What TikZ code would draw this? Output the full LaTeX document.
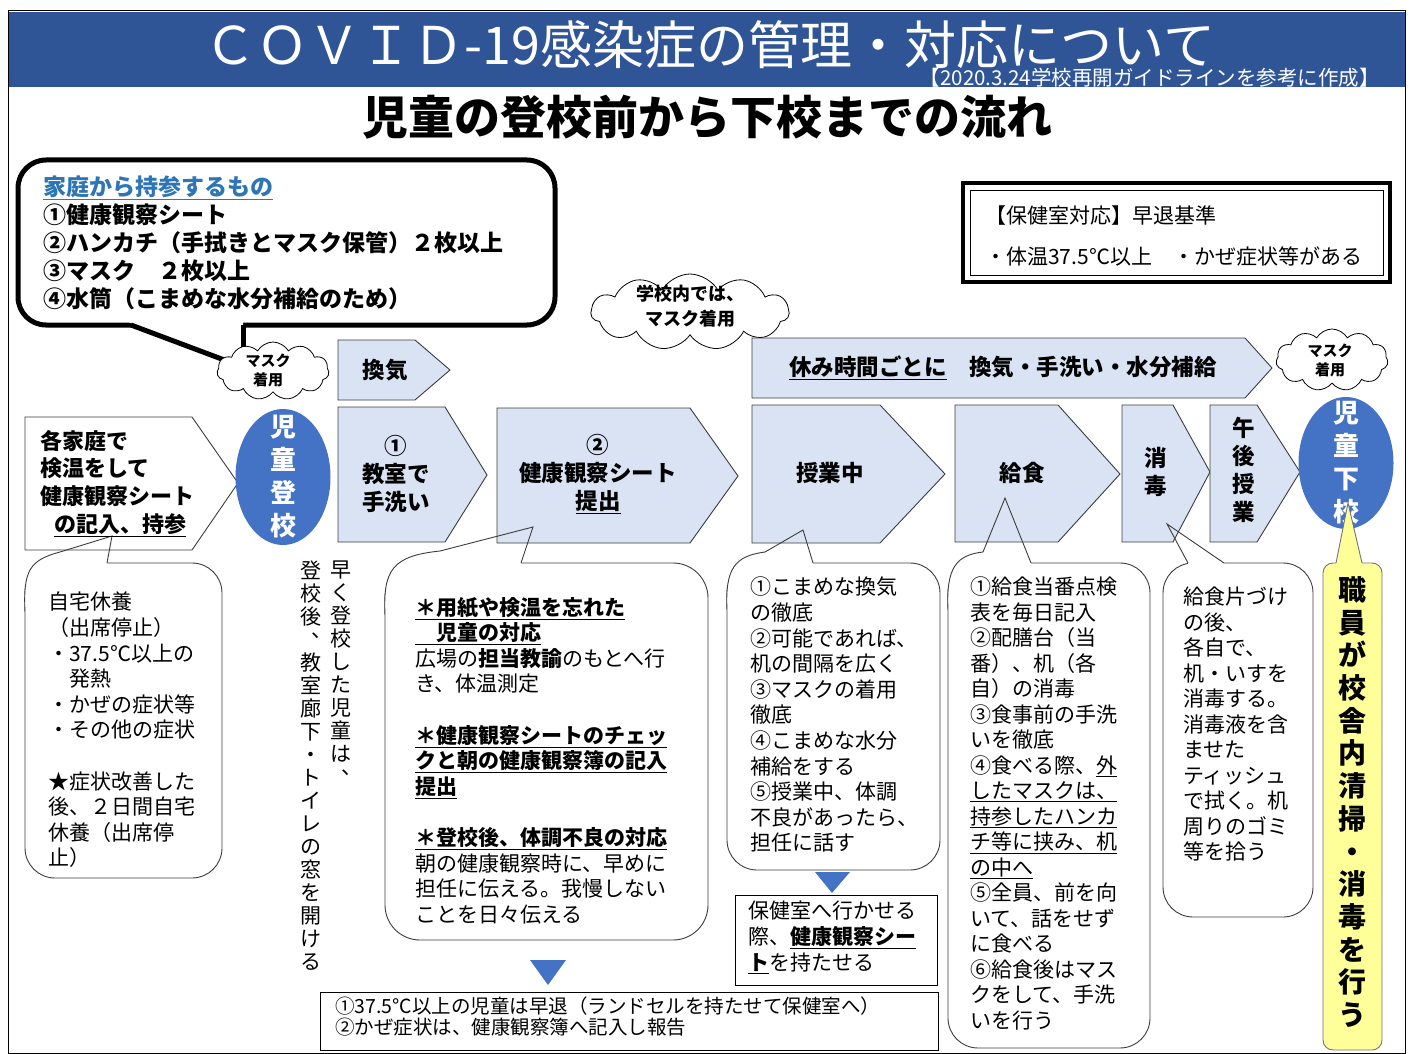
\documentclass[tikz,border=0pt]{standalone}
\usepackage{fontspec}
\setmainfont{Noto Sans CJK JP}
\usetikzlibrary{shapes.symbols,shapes.geometric}
\definecolor{banner}{RGB}{47,85,151}
\definecolor{ellblue}{RGB}{68,114,196}
\definecolor{pentfill}{RGB}{218,227,243}
\definecolor{lineg}{RGB}{60,60,60}
\definecolor{ttlblue}{RGB}{46,117,182}
\definecolor{yel}{RGB}{255,255,153}
\newcommand\myfs[2]{\fontsize{#1}{#2}\selectfont}
\newcommand\vcomma{\makebox[1em][l]{\hspace{0.5em}\raisebox{0.5em}{\makebox[0.5em][l]{、}}}}
\begin{document}
\begin{tikzpicture}[x=1pt,y=-1pt,
 pent/.style={draw=lineg, fill=pentfill, line width=0.9pt},
 bub/.style={draw=lineg, fill=white, line width=0.9pt},
 tailline/.style={draw=lineg, line width=0.9pt},
 btxt/.style={inner sep=0pt, anchor=north west, align=left, font=\myfs{21}{25.6}},
 ptxt/.style={inner sep=0pt, align=center, font=\myfs{22.5}{28}\bfseries},
 vtxt/.style={inner sep=0pt, align=center, anchor=north, font=\myfs{21}{23}},
 cloudn/.style={cloud, cloud puffs=11, cloud puff arc=120, cloud ignores aspect, draw=black, fill=white, line width=0.8pt, inner sep=0pt},
 cltxt/.style={inner sep=0pt, align=center, font=\myfs{15}{19}\bfseries},
 tri/.style={fill=ellblue},
]
\useasboundingbox (0,0) rectangle (1411,1054);
\fill[white] (0,0) rectangle (1411,1054);
% frame and banner
\fill[banner] (8,12) rectangle (1405,87);
\draw[line width=1pt] (8,11) rectangle (1405,1053);
\node[text=white, inner sep=0pt, font=\myfs{52}{52}] (title) at (710,45) {ＣＯＶＩＤ-19感染症の管理・対応について};
\node[text=white, inner sep=0pt, anchor=east, font=\myfs{20.5}{20.5}] (sub) at (1380,78) {【2020.3.24学校再開ガイドラインを参考に作成】};
\node[inner sep=0pt, font=\myfs{46}{46}\bfseries] (head) at (707,117) {児童の登校前から下校までの流れ};

% top-left thick box
\draw[line width=5pt, rounded corners=28pt, fill=white] (18,160) rectangle (555,325);
\fill[white] (126,321) -- (243,367) -- (243,321) -- cycle;
\draw[line width=5pt] (131,325) -- (243,367);
\draw[line width=5pt] (243,325) -- (243,367);
\node[anchor=north west, inner sep=0pt, align=left, font=\myfs{23}{27.8}\bfseries] (items) at (43,176)
 {\textcolor{ttlblue}{\underline{家庭から持参するもの}}\\①健康観察シート\\②ハンカチ（手拭きとマスク保管）２枚以上\\③マスク　２枚以上\\④水筒（こまめな水分補給のため）};
\node[cloudn, minimum width=112pt, minimum height=58pt] (cl1) at (273,371) {};
\node[cltxt] (cl1t) at (268,370) {マスク\\着用};

% top-right double box
\draw[line width=4pt] (963,183) rectangle (1390,282);
\draw[line width=1pt] (970,190) rectangle (1383,275);
\node[anchor=west, inner sep=0pt, font=\myfs{21}{21}] (hk1) at (985,216) {【保健室対応】早退基準};
\node[anchor=west, inner sep=0pt, font=\myfs{21}{21}] (hk2) at (985,256) {・体温37.5℃以上　・かぜ症状等がある};

% clouds
\node[cloudn, minimum width=198pt, minimum height=76pt] (cl2) at (690,312) {};
\node[cltxt, font=\myfs{18}{25}\bfseries] (cl2t) at (690,306) {学校内では、\\マスク着用};
\node[cloudn, minimum width=112pt, minimum height=62pt] (cl3) at (1332,360) {};
\node[cltxt] (cl3t) at (1330,360) {マスク\\着用};

% bubbles
\draw[bub, rounded corners=30pt] (25,563) rectangle (222,878);
\fill[white] (25,612) .. controls (23,570) and (30,560) .. (60,552) -- (112,536) -- (107,563) -- (107,612) -- cycle;
\draw[bub, rounded corners=35pt] (385,563) rectangle (708,940);
\fill[white] (385,615) .. controls (383,570) and (392,556) .. (440,551) -- (533,527) -- (521,563) -- (521,615) -- cycle;
\draw[bub, rounded corners=30pt] (727,563) rectangle (940,870);
\fill[white] (727,610) .. controls (725,568) and (735,556) .. (765,552) -- (803,530) -- (813,563) -- (813,610) -- cycle;
\draw[bub, rounded corners=30pt] (948,563) rectangle (1150,1048);
\fill[white] (948,610) .. controls (946,568) and (956,555) .. (983,552) -- (1005,498) -- (1031,563) -- (1031,610) -- cycle;
\draw[bub, rounded corners=30pt] (1163,563) rectangle (1313,917);
\fill[white] (1188,563) -- (1167,524) -- (1224,563) -- (1224,567) -- (1188,567) -- cycle;

% pentagons
\draw[bub] (25,417) -- (192,417) -- (238,483) -- (192,550) -- (25,550) -- cycle;
\draw[pent] (338,340) -- (415,340) -- (450,370) -- (415,400) -- (338,400) -- cycle;
\draw[pent] (752,338) -- (1245,338) -- (1272,368) -- (1245,398) -- (752,398) -- cycle;
\draw[pent] (338,407) -- (445,407) -- (487,475) -- (445,542) -- (338,542) -- cycle;
\draw[pent] (497,408) -- (690,408) -- (738,476) -- (690,543) -- (497,543) -- cycle;
\draw[pent] (752,405) -- (880,405) -- (945,474) -- (880,543) -- (752,543) -- cycle;
\draw[pent] (955,405) -- (1058,405) -- (1120,474) -- (1058,542) -- (955,542) -- cycle;
\draw[pent] (1122,405) -- (1173,405) -- (1210,472) -- (1173,542) -- (1122,542) -- cycle;
\draw[pent] (1210,405) -- (1257,405) -- (1300,472) -- (1257,542) -- (1210,542) -- cycle;

% tail lines on top
\draw[tailline] (25,612) .. controls (23,570) and (30,560) .. (60,552) -- (112,536) -- (107,563);
\draw[tailline] (385,615) .. controls (383,570) and (392,556) .. (440,551) -- (533,527) -- (521,563);
\draw[tailline] (727,610) .. controls (725,568) and (735,556) .. (765,552) -- (803,530) -- (813,563);
\draw[tailline] (948,610) .. controls (946,568) and (956,555) .. (983,552) -- (1005,498) -- (1031,563);
\draw[tailline] (1188,563) -- (1167,524) -- (1224,563);

% ellipses
\node[ellipse, fill=ellblue, minimum width=95pt, minimum height=136pt, inner sep=0pt] (tozo) at (283,477) {};
\node[ellipse, fill=ellblue, minimum width=95pt, minimum height=132pt, inner sep=0pt] (geko) at (1346,463) {};
\node[inner sep=0pt, align=center, text=white, font=\myfs{26}{33}\bfseries] (tozot) at (tozo.center) {児\\童\\登\\校};
\node[inner sep=0pt, align=center, text=white, font=\myfs{26}{33}\bfseries] (gekot) at (geko.center) {児\\童\\下\\校};

% yellow box
\draw[draw=black!55, fill=yel, line width=0.9pt, rounded corners=10pt] (1323,563) rectangle (1382,1050);
\fill[yel] (1336,563) -- (1348,503) -- (1362,563) -- (1362,567) -- (1336,567) -- cycle;
\draw[draw=black!55, line width=0.9pt] (1336,563) -- (1348,503) -- (1362,563);
\node[inner sep=0pt, align=center, font=\myfs{28}{32.7}\bfseries] (staff) at (1352,802) {職\\員\\が\\校\\舎\\内\\清\\掃\\・\\消\\毒\\を\\行\\う};

% pentagon texts
\node[ptxt] (kanki) at (385,370) {換気};
\node[ptxt] (rest) at (1003,368) {\underline{休み時間ごとに}　換気・手洗い・水分補給};
\node[ptxt] (p1t) at (396,474) {①\\教室で\\手洗い};
\node[ptxt] (p2t) at (598,474) {②\\健康観察シート\\\underline{提出}};
\node[ptxt] (p3t) at (830,473) {授業中};
\node[ptxt] (p4t) at (1022,473) {給食};
\node[ptxt] (p5t) at (1156,472) {消\\毒};
\node[ptxt] (p6t) at (1244,470) {午\\後\\授\\業};
\node[anchor=north west, inner sep=0pt, align=left, font=\myfs{22}{27.7}\bfseries] (home) at (40,430)
 {各家庭で\\検温をして\\健康観察シート\\\hspace*{14pt}\underline{の記入、持参}};

% vertical note
\node[vtxt] (early1) at (341,561) {早\\く\\登\\校\\し\\た\\児\\童\\は\\\vcomma};
\node[vtxt] (early2) at (311,561) {登\\校\\後\\\vcomma\\教\\室\\廊\\下\\・\\ト\\イ\\レ\\の\\窓\\を\\開\\け\\る};

% bubble texts
\node[btxt] (stay) at (48,592) {自宅休養\\（出席停止）\\・37.5℃以上の\\　発熱\\・かぜの症状等\\・その他の症状\\[25.6pt]★症状改善した\\後、２日間自宅\\休養（出席停\\止）};
\node[btxt] (forgot) at (415,597) {\textbf{\underline{＊用紙や検温を忘れた}}\\\textbf{\underline{　児童の対応}}\\広場の\textbf{担当教諭}のもとへ行\\き、体温測定\\[25.6pt]\textbf{\underline{＊健康観察シートのチェッ}}\\\textbf{\underline{クと朝の健康観察簿の記入}}\\\textbf{\underline{提出}}\\[25.6pt]\textbf{\underline{＊登校後、体調不良の対応}}\\朝の健康観察時に、早めに\\担任に伝える。我慢しない\\ことを日々伝える};
\node[btxt] (class) at (750,577) {①こまめな換気\\の徹底\\②可能であれば、\\机の間隔を広く\\③マスクの着用\\徹底\\④こまめな水分\\補給をする\\⑤授業中、体調\\不良があったら、\\担任に話す};
\node[btxt, font=\myfs{21}{25.5}] (lunch) at (970,577) {①給食当番点検\\表を毎日記入\\②配膳台（当\\番）、机（各\\自）の消毒\\③食事前の手洗\\いを徹底\\④食べる際、\underline{外}\\\underline{したマスクは、}\\\underline{持参したハンカ}\\\underline{チ等に挟み、机}\\\underline{の中へ}\\⑤全員、前を向\\いて、話をせず\\に食べる\\⑥給食後はマス\\クをして、手洗\\いを行う};
\node[btxt, font=\myfs{21}{25.5}] (disinf) at (1183,587) {給食片づけ\\の後、\\各自で、\\机・いすを\\消毒する。\\消毒液を含\\ませた\\ティッシュ\\で拭く。机\\周りのゴミ\\等を拾う};

% triangles and boxes
\fill[tri] (530,960) -- (566,960) -- (548,985) -- cycle;
\fill[tri] (815,872) -- (850,872) -- (832,893) -- cycle;
\draw[line width=1pt] (735,895) rectangle (937,985);
\node[btxt, font=\myfs{21}{26}] (hoken) at (748,901) {保健室へ行かせる\\際、\textbf{\underline{健康観察シー}}\\\textbf{\underline{ト}}を持たせる};
\draw[line width=1pt] (320,992) rectangle (938,1050);
\node[btxt, font=\myfs{19.5}{21}] (early) at (335,997) {①37.5℃以上の児童は早退（ランドセルを持たせて保健室へ）\\②かぜ症状は、健康観察簿へ記入し報告};
\end{tikzpicture}
\end{document}
